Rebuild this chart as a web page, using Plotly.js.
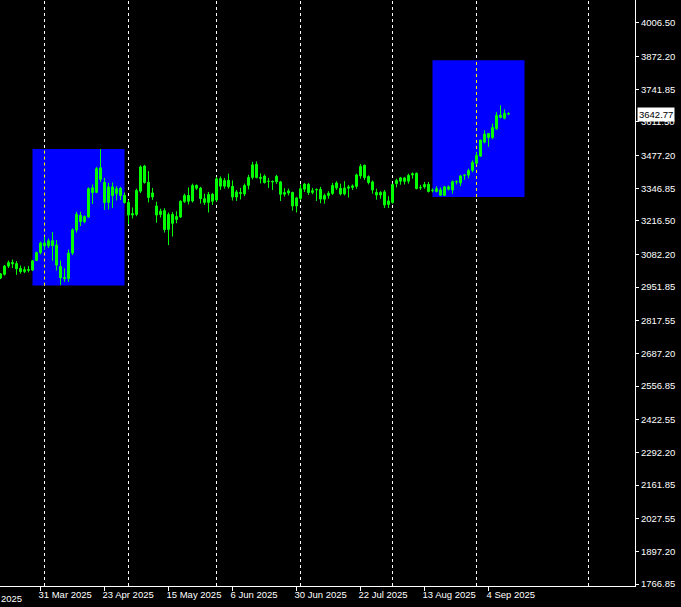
<!DOCTYPE html>
<html><head><meta charset="utf-8">
<script src="https://cdn.plot.ly/plotly-3.0.1.min.js"></script>
<style>html,body{margin:0;padding:0;background:#000;}#chart{width:681px;height:607px;}</style>
</head><body><div id="chart"></div>
<script>
// Daily candles, bar index 0 = 17 Mar 2025 ... 127 = 11 Sep 2025
const openP = [2988,3003,3036,3050,3046,3026,3014,3022,3020,3058,
3090,3128,3117,3137,3120,3034,2990,2986,3088,3180,
3238,3213,3232,3348,3330,3428,3370,3290,3352,3325,
3346,3318,3290,3240,3242,3335,3435,3370,3328,3276,
3242,3257,3182,3242,3222,3232,3293,3318,3296,3358,
3347,3290,3290,3322,3300,3385,3355,3378,3354,3312,
3330,3324,3358,3390,3442,3390,3395,3374,3374,3394,
3372,3323,3328,3330,3276,3306,3363,3362,3330,3342,
3342,3303,3318,3326,3348,3346,3324,3347,3350,3354,
3396,3438,3393,3372,3330,3320,3332,3282,3290,3365,
3375,3374,3375,3400,3406,3348,3352,3362,3337,3345,
3340,3318,3352,3340,3372,3368,3398,3399,3418,3446,
3475,3531,3565,3549,3584,3638,3626,3645];
const highP = [3008,3040,3058,3062,3056,3038,3034,3036,3060,3094,
3134,3153,3146,3172,3140,3058,3027,3102,3187,3253,
3253,3238,3350,3362,3432,3503,3388,3368,3370,3355,
3352,3330,3300,3270,3345,3438,3440,3415,3348,3293,
3265,3267,3250,3252,3255,3298,3325,3350,3365,3362,
3352,3325,3332,3328,3392,3394,3388,3405,3378,3340,
3348,3365,3400,3452,3454,3406,3402,3388,3378,3400,
3376,3347,3345,3333,3312,3362,3368,3368,3348,3346,
3352,3325,3335,3368,3375,3365,3375,3360,3362,3405,
3443,3442,3398,3378,3345,3335,3340,3315,3365,3385,
3392,3392,3405,3410,3410,3360,3372,3372,3346,3355,
3350,3356,3358,3378,3378,3400,3402,3425,3458,3490,
3540,3578,3566,3605,3651,3678,3662,3650];
const lowP = [2984,2998,3028,3028,3001,3006,3008,3011,3016,3056,
3083,3101,3108,3057,3018,2960,2973,2973,3080,3170,
3196,3207,3228,3284,3327,3372,3260,3262,3268,3298,
3300,3285,3202,3226,3235,3328,3365,3290,3300,3209,
3230,3170,3120,3154,3207,3228,3288,3282,3290,3340,
3286,3280,3250,3280,3293,3340,3345,3345,3298,3296,
3302,3315,3342,3382,3386,3366,3365,3348,3340,3364,
3296,3313,3318,3257,3250,3300,3332,3320,3323,3296,
3287,3285,3305,3320,3340,3318,3318,3310,3340,3345,
3385,3380,3362,3325,3301,3305,3268,3268,3285,3350,
3361,3362,3365,3385,3342,3340,3345,3330,3330,3330,
3316,3316,3338,3325,3362,3355,3380,3386,3410,3442,
3472,3526,3512,3543,3579,3626,3622,3638];
const closeP = [3005,3036,3050,3045,3026,3014,3022,3019,3057,3090,
3128,3117,3137,3118,3040,2990,2986,3088,3180,3243,
3214,3234,3345,3330,3425,3383,3290,3352,3318,3345,
3318,3290,3240,3246,3338,3432,3370,3310,3312,3240,
3255,3182,3242,3207,3234,3295,3318,3295,3358,3347,
3306,3305,3322,3295,3384,3355,3378,3353,3312,3332,
3326,3358,3390,3440,3390,3386,3370,3375,3372,3373,
3323,3330,3336,3276,3308,3345,3343,3330,3337,3340,
3304,3318,3327,3358,3368,3324,3347,3352,3356,3400,
3434,3390,3370,3340,3320,3330,3280,3296,3362,3378,
3388,3388,3398,3405,3346,3350,3362,3334,3339,3334,
3319,3352,3343,3373,3374,3396,3400,3418,3450,3478,
3539,3563,3549,3589,3638,3630,3646,3642.77];

const dateTickIdx  = [-6, 10, 26, 42, 58, 74, 90, 106, 122];
const dateTickText = ["7 Mar 2025","31 Mar 2025","23 Apr 2025","15 May 2025","6 Jun 2025",
                      "30 Jun 2025","22 Jul 2025","13 Aug 2025","4 Sep 2025"];
const separatorIdx = [11, 32, 54, 75, 98, 119, 147];
const priceTicks = [1766.85,1897.20,2027.55,2161.85,2292.20,2422.55,2556.85,2687.20,2817.55,
                    2951.85,3082.20,3216.50,3346.85,3477.20,3611.50,3741.85,3872.20,4006.50];
const boxStart = [8, 108];
const boxEnd   = [31, 131];
const boxHigh  = [3503, 3858];
const boxLow   = [2958, 3312];

const xRange = [-0.125, 158.625];
const yRange = [1758.9, 4098.2];

const GREEN = '#00ff00';
const FONT = {family: 'Liberation Sans, Arial, sans-serif', size: 9.5, color: '#ffffff'};

const idx = openP.map((_, i) => i);
const wx = [], wy = [];
idx.forEach(i => { wx.push(i, i, null); wy.push(lowP[i], highP[i], null); });
const bull = idx.filter(i => closeP[i] >= openP[i]);
const bear = idx.filter(i => closeP[i] < openP[i]);

const traces = [
  {type: 'scatter', mode: 'lines', x: wx, y: wy, line: {color: GREEN, width: 1}, hoverinfo: 'skip'},
  {type: 'bar', x: bull, base: bull.map(i => openP[i]), y: bull.map(i => Math.max(closeP[i] - openP[i], 0.5)),
   width: 0.5, marker: {color: '#000000', line: {color: GREEN, width: 1}}},
  {type: 'bar', x: bear, base: bear.map(i => closeP[i]), y: bear.map(i => openP[i] - closeP[i]),
   width: 0.5, marker: {color: '#ffffff', line: {color: GREEN, width: 1}}}
];

const shapes = [];
boxStart.forEach((s, j) => shapes.push({type: 'rect', layer: 'below', xref: 'x', yref: 'y',
  x0: s, x1: boxEnd[j], y0: boxLow[j], y1: boxHigh[j], fillcolor: '#0000ff', line: {width: 0}}));
separatorIdx.forEach(s => {
  shapes.push({type: 'line', layer: 'below', xref: 'x', yref: 'paper', x0: s, x1: s, y0: 0, y1: 1,
    line: {color: '#ffffff', width: 1, dash: '3px,3px'}});
  boxStart.forEach((b, j) => {
    if (s >= b && s <= boxEnd[j]) shapes.push({type: 'line', layer: 'below', xref: 'x', yref: 'y',
      x0: s, x1: s, y0: boxLow[j], y1: boxHigh[j], line: {color: '#ffff00', width: 1, dash: '3px,3px'}});
  });
});

const annotations = [];
// date labels whose tick lies left of the visible range (cut-off label)
dateTickIdx.forEach((t, j) => {
  if (t < xRange[0]) annotations.push({xref: 'paper', yref: 'paper',
    x: (t - xRange[0]) / (xRange[1] - xRange[0]), y: 0, xanchor: 'left', yanchor: 'top', xshift: -5, yshift: -5,
    text: dateTickText[j], showarrow: false, font: FONT});
});
const last = closeP[closeP.length - 1];
annotations.push({xref: 'paper', yref: 'y', x: 1, y: last, xanchor: 'left', yanchor: 'middle', xshift: 2,
  text: last.toFixed(2), showarrow: false, bgcolor: '#ffffff', borderpad: 1,
  font: {family: FONT.family, size: 9.5, color: '#000000'}});

const layout = {
  width: 681, height: 607,
  paper_bgcolor: '#000000', plot_bgcolor: '#000000',
  margin: {l: 0, r: 46, t: 0, b: 21},
  showlegend: false, barmode: 'overlay', hovermode: false,
  xaxis: {range: xRange, showgrid: false, zeroline: false, showline: true, linecolor: '#ffffff', linewidth: 1,
    ticks: 'outside', ticklen: 4, tickcolor: '#ffffff', tickvals: dateTickIdx, ticktext: dateTickText,
    ticklabelposition: 'outside right', ticklabelshift: -3, tickfont: FONT, fixedrange: true},
  yaxis: {side: 'right', range: yRange, showgrid: false, zeroline: false, showline: true, linecolor: '#ffffff',
    linewidth: 1, ticks: 'outside', ticklen: 3, tickcolor: '#ffffff', tickvals: priceTicks,
    ticktext: priceTicks.map(v => v.toFixed(2)), tickfont: FONT, fixedrange: true},
  shapes: shapes, annotations: annotations
};
Plotly.newPlot('chart', traces, layout, {staticPlot: true, displayModeBar: false});
</script></body></html>
